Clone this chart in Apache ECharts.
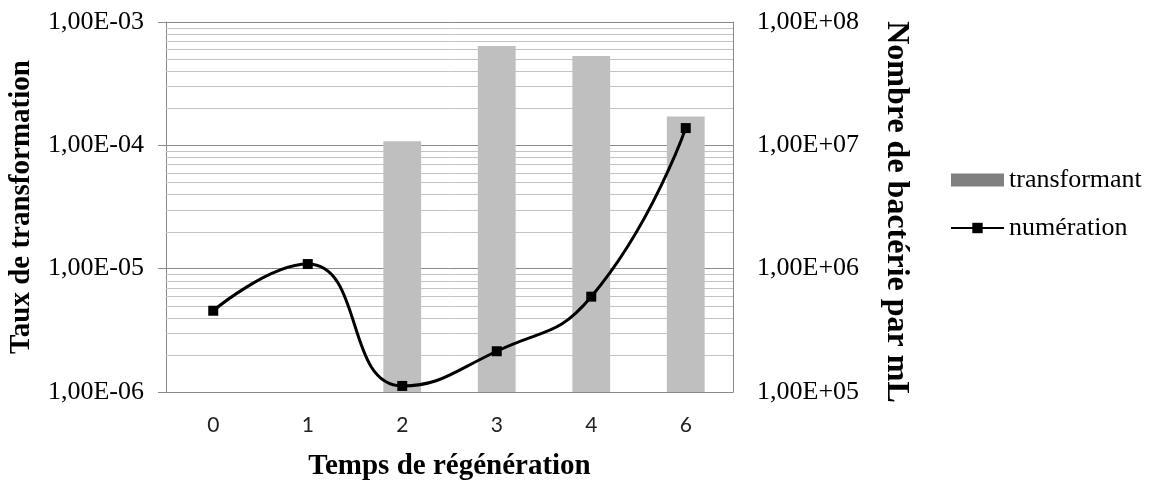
<!DOCTYPE html>
<html><head><meta charset="utf-8">
<script src="https://cdn.jsdelivr.net/npm/echarts@6/dist/echarts.min.js"></script>
<style>html,body{margin:0;padding:0;background:#fff}#c{width:1163px;height:481px}</style>
</head><body><div id="c"></div>
<script>
const categories = ['0', '1', '2', '3', '4', '6'];
const transformant = [null, null, 1.08e-4, 6.4e-4, 5.3e-4, 1.71e-4];
const numeration = [4.56e5, 1.09e6, 1.12e5, 2.14e5, 5.93e5, 1.38e7];
const leftRange = [1e-6, 1e-3];
const rightRange = [1e5, 1e8];

function fmt(v) {
  const s = Number(v).toExponential(2);
  const parts = s.split('e');
  const n = parseInt(parts[1], 10);
  return parts[0].replace('.', ',') + 'E' + (n < 0 ? '-' : '+') + String(Math.abs(n)).padStart(2, '0');
}
// minor log gridlines (2..9 within each decade of the left axis)
const minorLines = [];
for (let e = Math.round(Math.log10(leftRange[0])); e < Math.round(Math.log10(leftRange[1])); e++) {
  for (let m = 2; m <= 9; m++) minorLines.push([0, m * Math.pow(10, e)]);
}
const serif = '"Liberation Serif", "Times New Roman", serif';
const chart = echarts.init(document.getElementById('c'));
chart.setOption({
  animation: false,
  backgroundColor: '#fff',
  grid: { left: 166, right: 430, top: 22, bottom: 89, containLabel: false, outerBoundsMode: 'none' },
  legend: {
    orient: 'vertical', left: 945, top: 162, itemWidth: 53, itemHeight: 13, itemGap: 22,
    textStyle: { fontFamily: serif, fontSize: 26, color: '#000' },
    data: [{ name: 'transformant', icon: 'rect', itemStyle: { color: '#808080' } }, { name: 'numération' }]
  },
  xAxis: {
    type: 'category', data: categories,
    axisLine: { lineStyle: { color: '#8a8a8a', width: 1 } },
    axisTick: { show: false },
    axisLabel: { fontFamily: 'Lato, "Open Sans", sans-serif', fontSize: 21, color: '#222', margin: 23 },
    name: 'Temps de régénération', nameLocation: 'middle', nameGap: 60,
    nameTextStyle: { fontFamily: serif, fontSize: 29, fontWeight: 'bold', color: '#000', verticalAlign: 'top' }
  },
  yAxis: [{
    type: 'log', logBase: 10, min: leftRange[0], max: leftRange[1],
    axisLine: { show: true, lineStyle: { color: '#8a8a8a' } },
    axisTick: { show: true, length: 8, lineStyle: { color: '#8a8a8a' } },
    splitLine: { show: true, lineStyle: { color: '#8a8a8a', width: 1 } },
    axisLabel: { formatter: fmt, fontFamily: serif, fontSize: 26, color: '#000', margin: 22 },
    name: 'Taux de transformation', nameLocation: 'middle', nameGap: 130,
    nameTextStyle: { fontFamily: serif, fontSize: 29, fontWeight: 'bold', color: '#000' }
  }, {
    type: 'log', logBase: 10, min: rightRange[0], max: rightRange[1],
    axisLine: { show: true, lineStyle: { color: '#8a8a8a' } },
    axisTick: { show: false },
    splitLine: { show: false },
    axisLabel: { formatter: fmt, fontFamily: serif, fontSize: 26, color: '#000', margin: 24 },
    name: 'Nombre de bactérie par mL', nameLocation: 'middle', nameGap: 147, nameRotate: -90,
    nameTextStyle: { fontFamily: serif, fontSize: 32, fontWeight: 'bold', color: '#000', padding: [0, 0, 0, 10] }
  }],
  series: [{
    name: 'minor', type: 'custom', yAxisIndex: 0, z: 1, silent: true,
    encode: { x: 0, y: 1 }, data: minorLines,
    renderItem: function (params, api) {
      const cs = params.coordSys;
      const y = Math.round(api.coord([0, api.value(1)])[1]) + 0.5;
      return { type: 'line', shape: { x1: cs.x, y1: y, x2: cs.x + cs.width, y2: y },
        style: { stroke: '#c4c4c4', lineWidth: 1 } };
    }
  }, {
    name: 'transformant', type: 'custom', yAxisIndex: 0, z: 2,
    encode: { x: 0, y: 1 },
    data: transformant.map((v, i) => [i, v]),
    itemStyle: { color: '#bfbfbf' },
    renderItem: function (params, api) {
      const v = api.value(1);
      if (v == null || isNaN(v)) return null;
      const i = api.value(0);
      const top = api.coord([i, v]);
      const bot = api.coord([i, leftRange[0]]);
      const band = api.coord([1, v])[0] - api.coord([0, v])[0];
      const w = band * 0.4;
      return { type: 'rect', shape: { x: top[0] - w / 2, y: top[1], width: w, height: bot[1] - top[1] },
        style: { fill: '#bfbfbf' } };
    }
  }, {
    name: 'numération', type: 'line', yAxisIndex: 1, z: 3, smooth: 0.5,
    symbol: 'rect', symbolSize: 10,
    lineStyle: { color: '#000', width: 3 }, itemStyle: { color: '#000' },
    data: numeration
  }]
});
</script></body></html>
